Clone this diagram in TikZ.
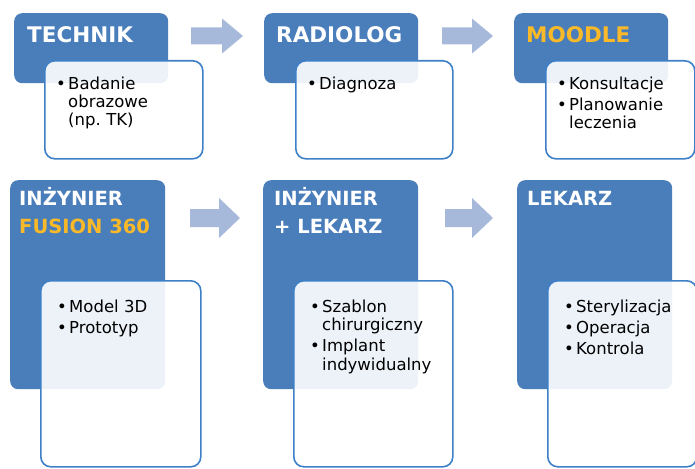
\documentclass[tikz,border=0pt]{standalone}
\usepackage{fontspec}
\setmainfont{DejaVu Sans}
\usepackage{xcolor}
\usepackage{tikz}
\usetikzlibrary{positioning}
\definecolor{stageblue}{RGB}{74,126,187}
\definecolor{stageline}{RGB}{62,128,200}
\definecolor{arrowblue}{RGB}{167,185,218}
\definecolor{toolgold}{RGB}{249,185,40}
\frenchspacing
\newcommand{\itm}[1]{\hangindent=12pt\hangafter=1\noindent\makebox[12pt][l]{\textbullet}#1\par}
\tikzset{stage/.style={rectangle,rounded corners=8pt,fill=stageblue,inner sep=0pt,anchor=north west},
         task/.style={rectangle,rounded corners=10pt,draw=stageline,line width=1.6pt,fill=white,fill opacity=0.9,inner sep=0pt,anchor=north west},
         head/.style={text=white,font=\bfseries\fontsize{21.5}{24}\selectfont,inner sep=0pt,anchor=base west},
         subhead/.style={head,font=\bfseries\fontsize{19.5}{22}\selectfont},
         items/.style={text width=140pt,align=left,inner sep=0pt,anchor=north west,
                       font=\fontsize{16.5}{18.3}\selectfont,
                       execute at begin node={\setlength{\parskip}{3pt}}}}

\begin{document}
\begin{tikzpicture}[x=1pt,y=1pt]
\useasboundingbox (0,0) rectangle (695,-468);
% blue stage boxes
\node[stage,minimum width=154pt,minimum height=70pt] (s1) at (14,-13) {};
\node[stage,minimum width=154pt,minimum height=70pt] (s2) at (264,-13) {};
\node[stage,minimum width=154pt,minimum height=70pt] (s3) at (514,-13) {};
\node[stage,minimum width=155pt,minimum height=209pt] (s4) at (10,-180) {};
\node[stage,minimum width=155pt,minimum height=209pt] (s5) at (263,-180) {};
\node[stage,minimum width=155pt,minimum height=209pt] (s6) at (517,-180) {};
% white task boxes
\node[task,minimum width=158pt,minimum height=98pt] (w1) at (44,-60) {};
\node[task,minimum width=157pt,minimum height=98pt] (w2) at (295,-60) {};
\node[task,minimum width=149pt,minimum height=98pt] (w3) at (545,-60) {};
\node[task,minimum width=160pt,minimum height=186pt] (w4) at (40,-280) {};
\node[task,minimum width=159pt,minimum height=186pt] (w5) at (293,-280) {};
\node[task,minimum width=149pt,minimum height=186pt] (w6) at (547,-280) {};
% titles
\node[head] (t1) at (27,-43) {TECHNIK};
\node[head] (t2) at (276,-43) {RADIOLOG};
\node[head,text=toolgold] (t3) at (526,-43) {MOODLE};
\node[subhead] (t4) at (19,-205) {INŻYNIER};
\node[subhead,text=toolgold] (t4b) at (19,-233) {FUSION 360};
\node[subhead] (t5) at (274,-205) {INŻYNIER};
\node[subhead] (t5b) at (274,-233) {+ LEKARZ};
\node[subhead] (t6) at (527,-205) {LEKARZ};
% task lists
\node[items] (l1) at (56,-76.5) {\itm{Badanie\newline obrazowe\newline (np. TK)}};
\node[items] (l2) at (307,-76.5) {\itm{Diagnoza}};
\node[items] (l3) at (557,-76.5) {\itm{Konsultacje}\itm{Planowanie\newline leczenia}};
\node[items] (l4) at (57,-299.5) {\itm{Model 3D}\itm{Prototyp}};
\node[items] (l5) at (310,-299.5) {\itm{Szablon\newline chirurgiczny}\itm{Implant\newline indywidualny}};
\node[items] (l6) at (564,-299.5) {\itm{Sterylizacja}\itm{Operacja}\itm{Kontrola}};
% arrows between stages
\foreach \ax/\ay/\xt/\sh/\hh in {191/-36/243/8.5/17.5, 442/-36/493/8.5/17.5, 190/-218/240/9/20, 445/-218/493/9/20}
  \fill[arrowblue] (\ax,\ay+\sh) -- (\xt-21,\ay+\sh) -- (\xt-21,\ay+\hh) -- (\xt,\ay)
    -- (\xt-21,\ay-\hh) -- (\xt-21,\ay-\sh) -- (\ax,\ay-\sh) -- cycle;
\end{tikzpicture}
\end{document}
